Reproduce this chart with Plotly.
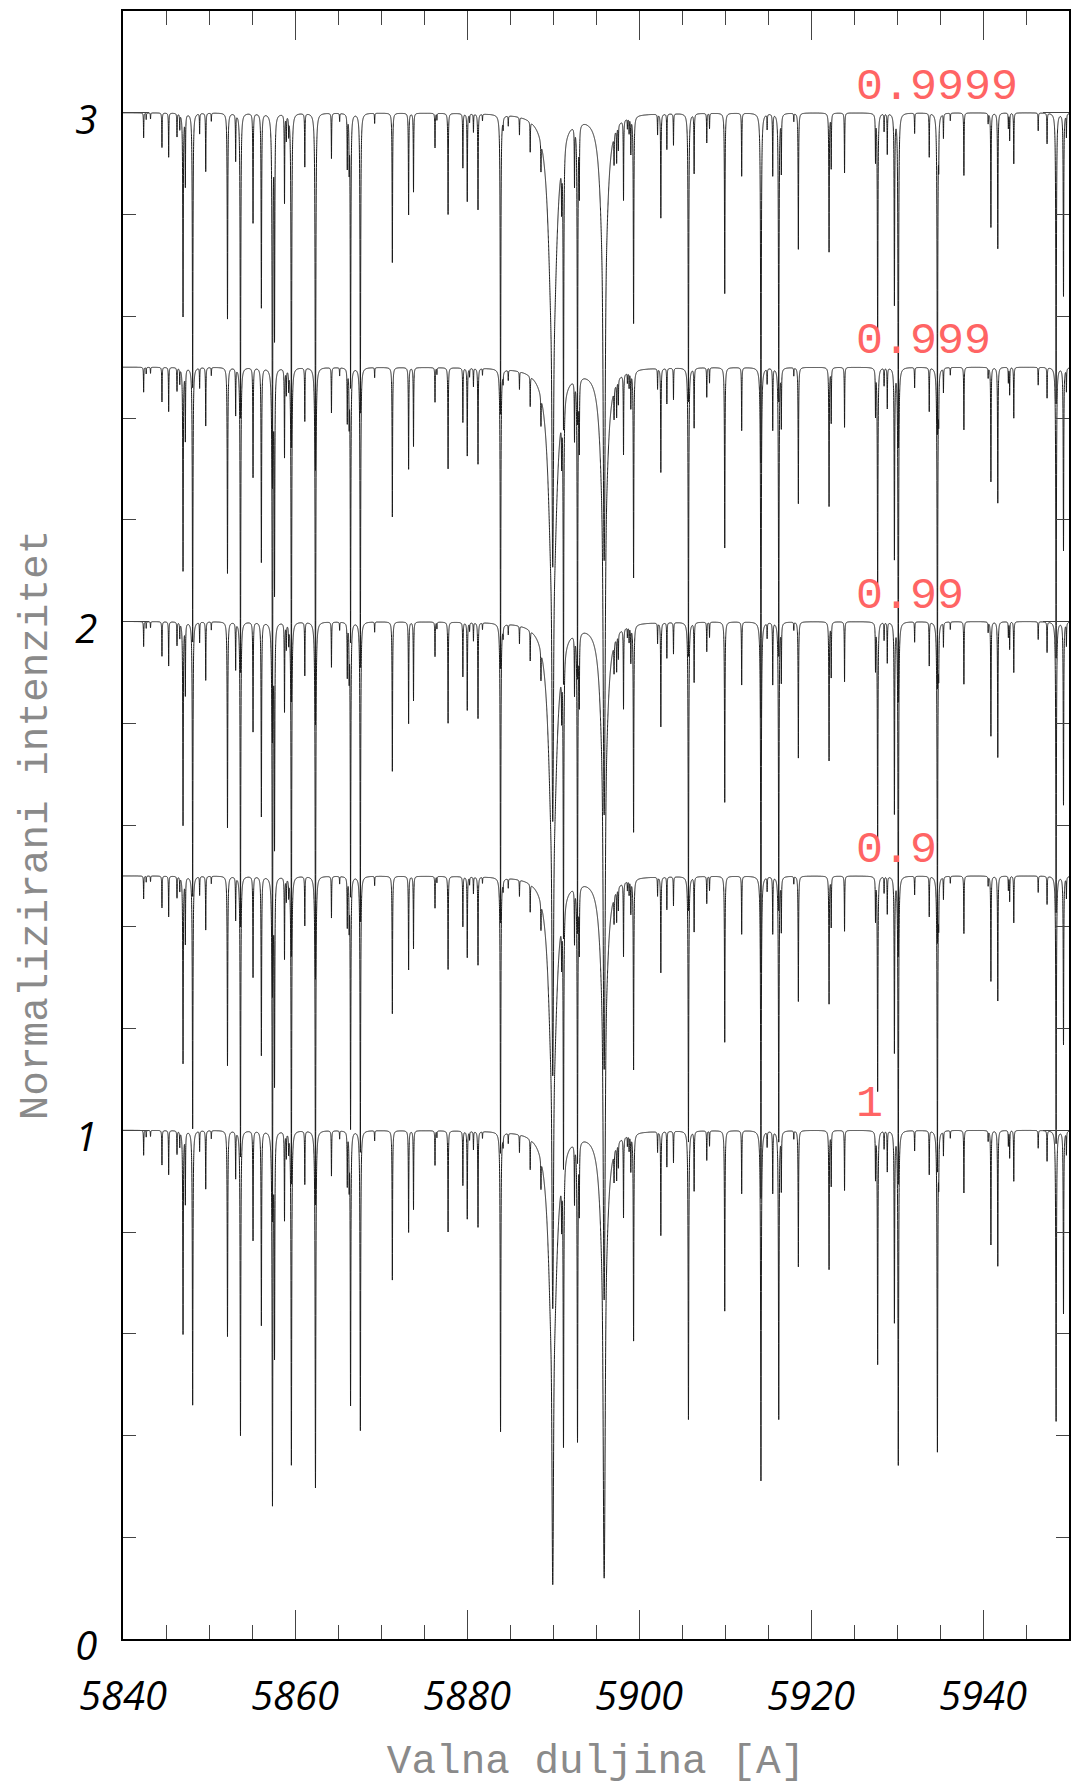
import numpy as np
import plotly.graph_objects as go

# ---------------- data ----------------
# absorption line centres [A] and depths (fraction of continuum)
line_wl = [
    5842.40, 5842.70, 5843.20, 5844.53, 5845.31, 5846.28, 5846.60, 5846.98, 5847.25,
    5848.10, 5848.91, 5849.62, 5850.27, 5852.15, 5853.10, 5853.66, 5855.12, 5856.09,
    5857.38, 5857.62, 5858.78, 5858.99, 5859.26, 5859.58, 5861.14, 5862.38, 5864.24,
    5865.19, 5866.08, 5866.30, 5866.46, 5867.60, 5869.26, 5871.32, 5873.21, 5873.78,
    5876.28, 5876.50, 5877.80, 5879.52, 5880.03, 5880.30, 5880.75, 5881.28, 5881.80,
    5883.90, 5884.20, 5884.80, 5886.10, 5887.35, 5888.60, 5891.00, 5891.22, 5892.50,
    5892.85, 5893.06, 5897.10, 5897.40, 5897.60, 5898.20, 5898.65, 5898.85, 5899.05,
    5899.37, 5902.16, 5902.54, 5903.24, 5904.01, 5905.75, 5906.41, 5907.88, 5908.20,
    5909.97, 5911.94, 5914.18, 5914.90, 5915.55, 5916.25, 5916.55, 5918.00, 5918.53,
    5922.10, 5922.35, 5923.90, 5927.50, 5927.75, 5928.50, 5928.87, 5929.70, 5930.15,
    5932.05, 5933.75, 5934.70, 5934.85, 5935.40, 5936.20, 5937.78, 5940.60, 5940.92,
    5941.72, 5942.95, 5943.10, 5943.58, 5946.42, 5947.45, 5948.50, 5949.36, 5949.70,
]
line_depth = [
    0.049, 0.013, 0.012, 0.068, 0.087, 0.046, 0.030, 0.400, 0.140,
    0.540, 0.040, 0.115, 0.016, 0.405, 0.092, 0.600, 0.216, 0.383,
    0.736, 0.435, 0.175, 0.049, 0.036, 0.658, 0.105, 0.703, 0.089,
    0.016, 0.105, 0.094, 0.540, 0.590, 0.020, 0.294, 0.200, 0.155,
    0.068, 0.013, 0.199, 0.107, 0.173, 0.016, 0.036, 0.189, 0.013,
    0.591, 0.020, 0.020, 0.035, 0.060, 0.060, 0.098, 0.594, 0.118,
    0.604, 0.134, 0.060, 0.070, 0.050, 0.160, 0.020, 0.030, 0.070,
    0.410, 0.040, 0.205, 0.070, 0.062, 0.568, 0.117, 0.058, 0.030,
    0.355, 0.124, 0.689, 0.030, 0.122, 0.568, 0.112, 0.016, 0.268,
    0.273, 0.107, 0.118, 0.090, 0.460, 0.035, 0.080, 0.375, 0.658,
    0.040, 0.086, 0.632, 0.074, 0.048, 0.015, 0.123, 0.020, 0.225,
    0.267, 0.030, 0.054, 0.100, 0.035, 0.060, 0.572, 0.360, 0.045,
]
# strong Na I D lines: centre, damping-wing depth and half-width, core depth and width [A]
na_wl = [5889.97, 5895.95]
na_wing_depth = [0.50, 0.40]
na_wing_gamma = [0.50, 0.40]
na_core_depth = [0.786, 0.80]
na_core_sigma = [0.10, 0.13]

# the five computed spectra, stacked with an offset, and their labels
offsets = [0.0, 0.5, 1.0, 1.5, 2.0]
labels = ["1", "0.9", "0.99", "0.999", "0.9999"]
depth_scale = [1.00, 0.92, 1.00, 1.00, 1.00]

x_ticks = [5840, 5860, 5880, 5900, 5920, 5940]
y_ticks = [0, 1, 2, 3]

# ---------------- build the spectra ----------------
wl = np.union1d(np.arange(5840.0, 5950.0001, 0.005), np.array(line_wl + na_wl))


def spectrum(scale):
    flux = np.ones_like(wl)
    for c, d in zip(line_wl, line_depth):
        g = 0.022 + 0.035 * d
        flux *= 1.0 - scale * d / (1.0 + ((wl - c) / g) ** 2)
    for c, a, g, b, s in zip(na_wl, na_wing_depth, na_wing_gamma, na_core_depth, na_core_sigma):
        flux *= 1.0 - scale * a / (1.0 + ((wl - c) / g) ** 2)
        flux *= 1.0 - scale * b * np.exp(-(((wl - c) / s) ** 2))
    return flux


fig = go.Figure()
for off, lab, sc in zip(offsets, labels, depth_scale):
    fig.add_trace(go.Scatter(
        x=wl, y=spectrum(sc) + off, mode="lines", name=lab,
        line=dict(color="#1a1a1a", width=1, simplify=False),
        showlegend=False, hoverinfo="skip",
    ))
    fig.add_annotation(
        x=5925.0, y=1.0 + off, xref="x", yref="y", text=lab, showarrow=False,
        xanchor="left", yanchor="bottom", yshift=-2,
        font=dict(family="Liberation Mono", size=45, color="#ff6464"),
    )

tickfont = dict(family="Open Sans", size=40, color="black", style="italic")
titlefont = dict(family="Liberation Mono", size=41, color="#8a8a8a")

fig.update_layout(
    width=1073, height=1787,
    margin=dict(l=123, r=2, t=11, b=148),
    paper_bgcolor="white", plot_bgcolor="white",
)
fig.update_xaxes(
    range=[5840, 5950], tickvals=x_ticks, ticktext=[str(v) for v in x_ticks],
    showline=True, linecolor="black", linewidth=1.5, mirror="allticks",
    ticks="inside", ticklen=29, tickwidth=1, tickcolor="#444",
    minor=dict(ticks="inside", dtick=5, tick0=5840, ticklen=14, tickwidth=1, tickcolor="#444"),
    showgrid=False, zeroline=False, tickfont=tickfont, ticklabelstandoff=21,
    title=dict(text="Valna duljina [A]", font=titlefont, standoff=24),
)
fig.update_yaxes(
    range=[0, 3.2], tickvals=y_ticks, ticktext=[str(v) for v in y_ticks],
    showline=True, linecolor="black", linewidth=1.5, mirror="allticks",
    ticks="inside", ticklen=26, tickwidth=1, tickcolor="#444",
    minor=dict(ticks="inside", dtick=0.2, tick0=0, ticklen=13, tickwidth=1, tickcolor="#444"),
    showgrid=False, zeroline=False, tickfont=tickfont, ticklabelstandoff=16,
    ticklabelshift=7,
    title=dict(text="Normalizirani intenzitet", font=titlefont, standoff=15),
)

fig.write_html("out.html", config={"displayModeBar": False},
               post_script="document.body.style.margin='0';")
